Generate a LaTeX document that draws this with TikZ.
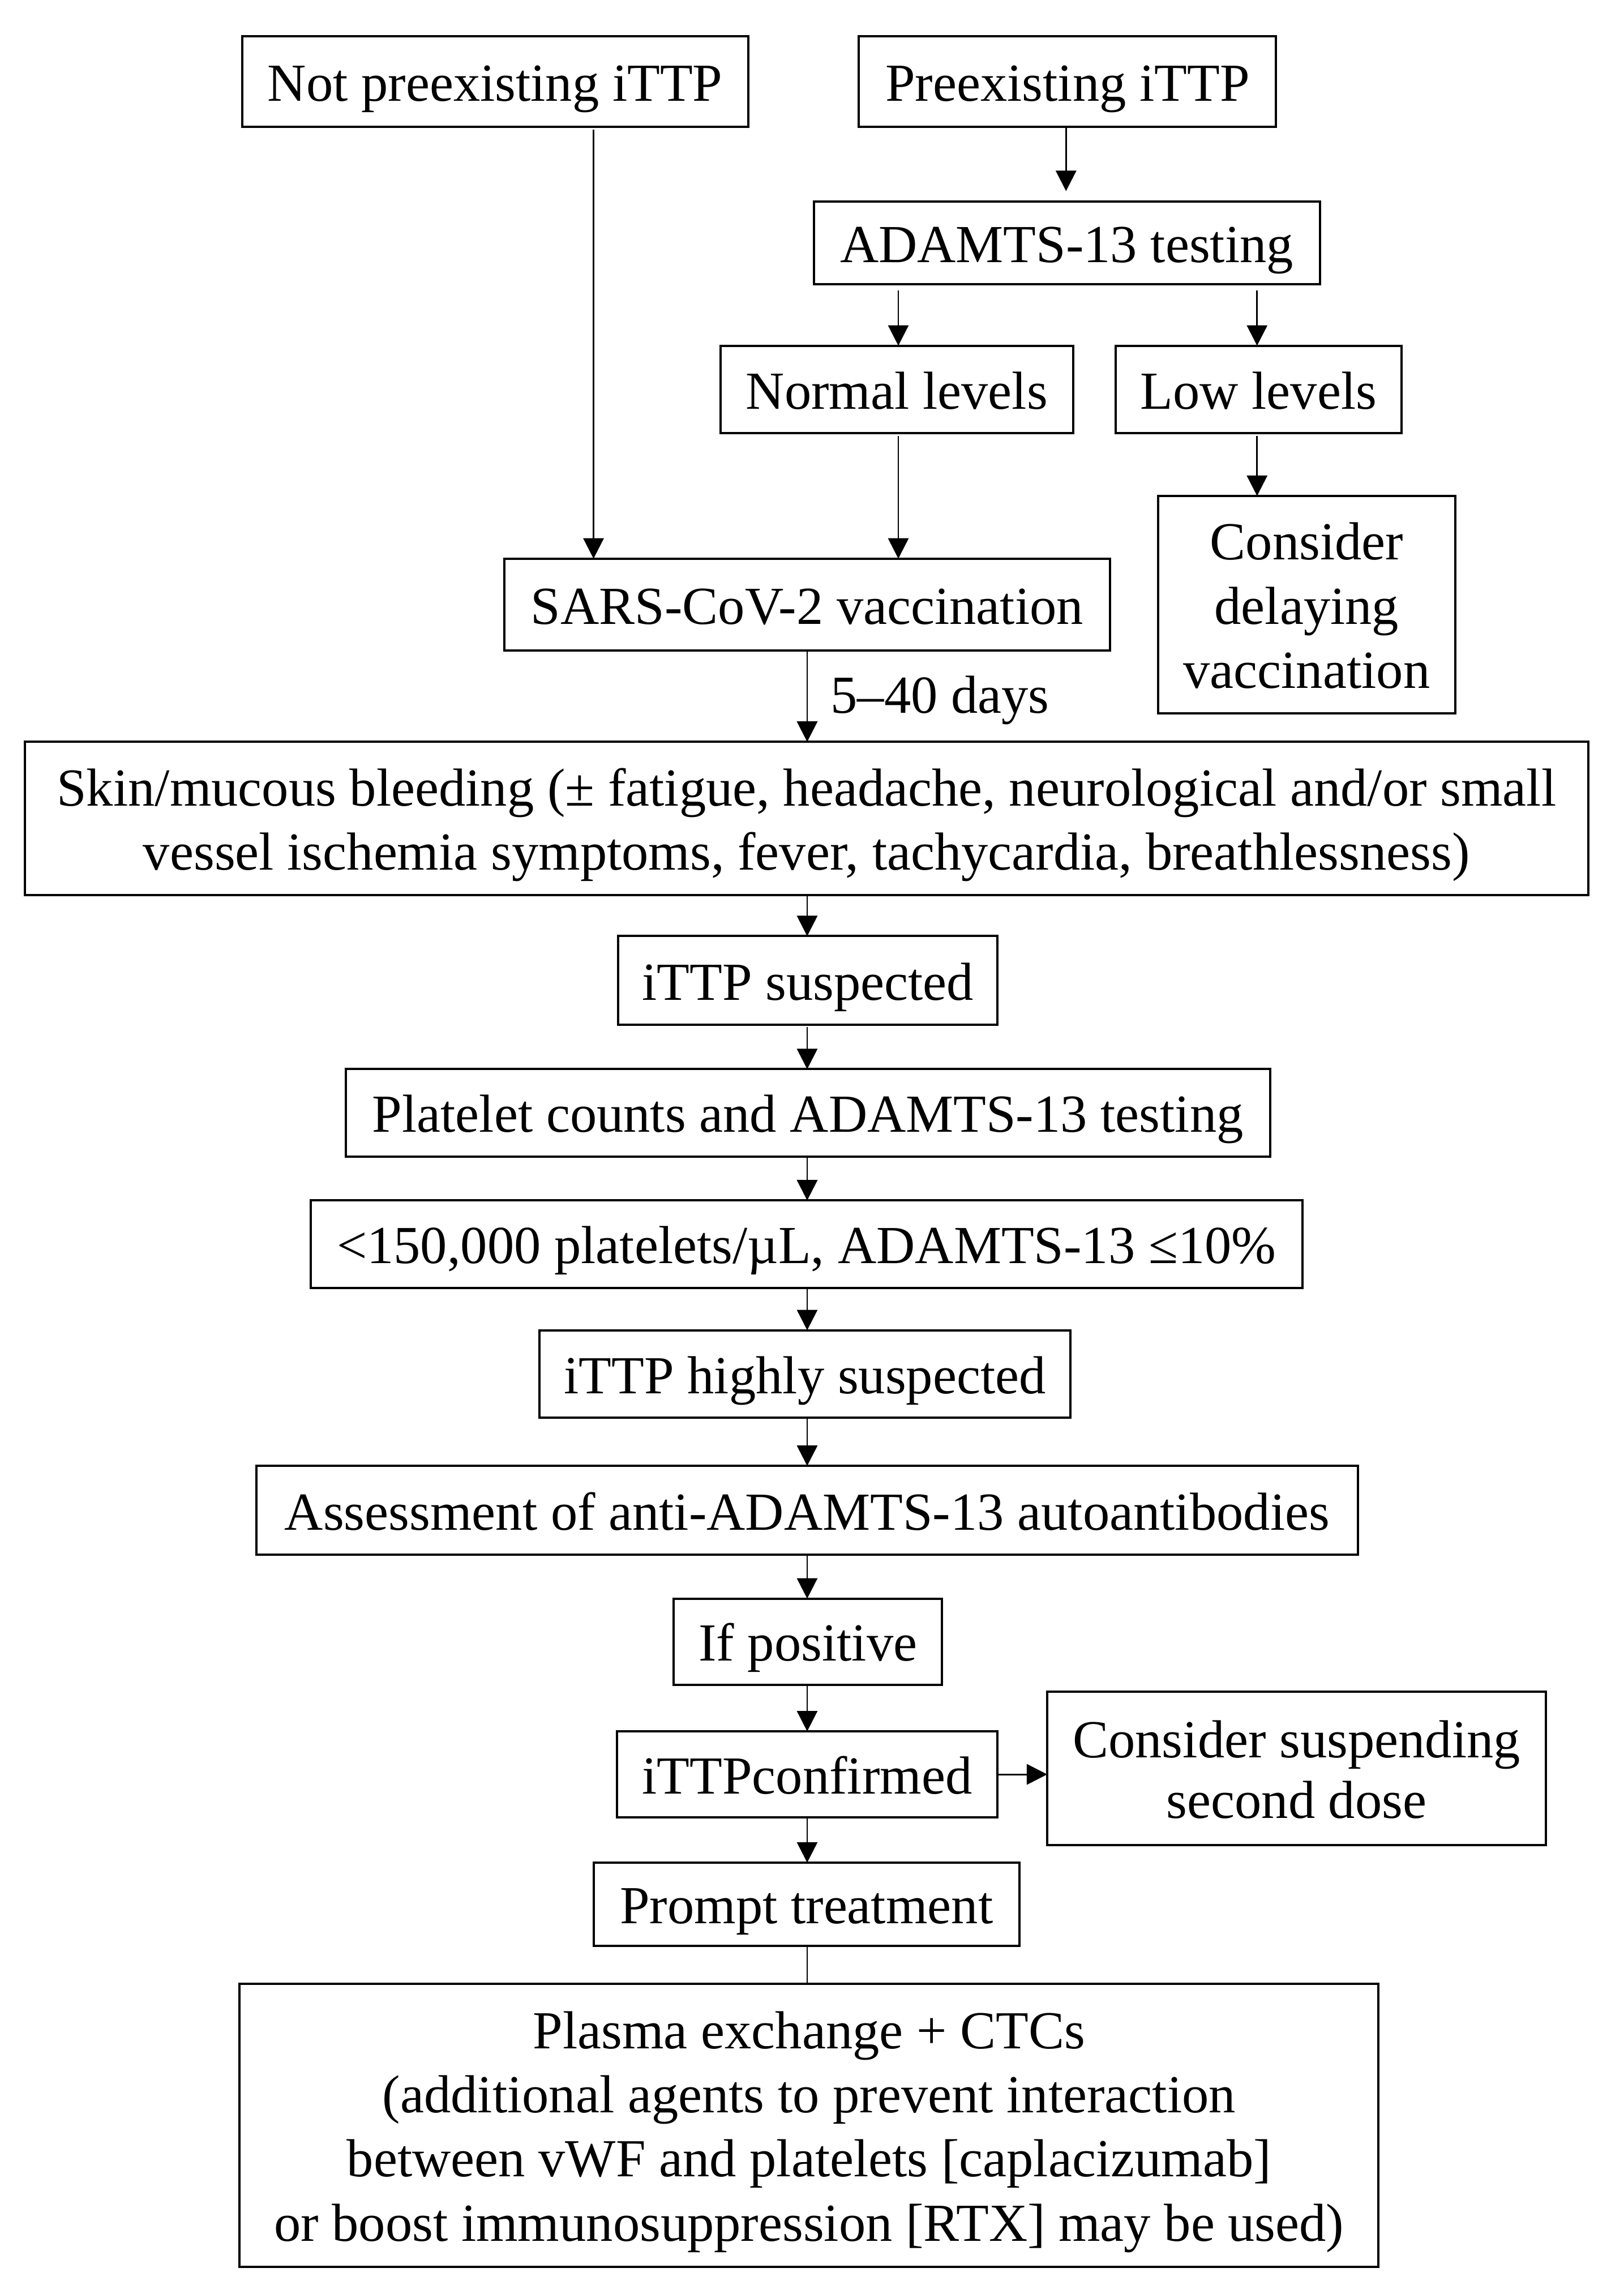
\documentclass[tikz,border=0pt]{standalone}
\usepackage{fontspec}
\setmainfont{Liberation Serif}
\usetikzlibrary{arrows.meta}
\newcommand{\fs}{\fontsize{36.7pt}{44pt}\selectfont}
\newcommand{\topS}{\rule{0pt}{35.9pt}}
\newcommand{\botS}{\rule[-9.3pt]{0pt}{9.3pt}}
\begin{document}
\begin{tikzpicture}[x=1pt,y=1pt,
  box/.style={draw, line width=1.55pt, inner sep=0pt, outer sep=0pt, align=center, font=\fs},
  one/.style={text height=35.9pt, text depth=9.3pt},
  arr/.style={line width=1.15pt, -{Triangle[length=14pt,width=14pt]}},
  ln/.style={line width=1.15pt}]
\useasboundingbox (0,0) rectangle (1113.3,-1566.6);
% nodes
\node[box,one,minimum width=347pt,minimum height=62pt] (A) at (339.5,-56) {Not preexisting iTTP};
\node[box,one,minimum width=286pt,minimum height=62pt] (B) at (732,-56) {Preexisting iTTP};
\node[box,one,minimum width=347pt,minimum height=57pt] (C) at (731.5,-166.5) {ADAMTS-13 testing};
\node[box,one,minimum width=242pt,minimum height=60pt] (D) at (615,-267) {Normal levels};
\node[box,one,minimum width=196pt,minimum height=60pt] (E) at (863,-267) {Low levels};
\node[box,minimum width=204pt,minimum height=149pt] (F) at (896,-414.5) {\topS Consider\\delaying\\vaccination\botS};
\node[box,one,minimum width=415pt,minimum height=63pt] (G) at (553.5,-414.5) {SARS-CoV-2 vaccination};
\node[box,minimum width=1072pt,minimum height=105pt] (H) at (553,-561.1) {\topS Skin/mucous bleeding (± fatigue, headache, neurological and/or small\\vessel ischemia symptoms, fever, tachycardia, breathlessness)\botS};
\node[box,one,minimum width=260pt,minimum height=60.8pt] (I) at (554,-672.2) {iTTP suspected};
\node[box,one,minimum width=634pt,minimum height=60pt] (J) at (554,-763) {Platelet counts and ADAMTS-13 testing};
\node[box,one,minimum width=680pt,minimum height=60pt] (K) at (553,-853) {<150,000 platelets/µL, ADAMTS-13 ≤10\%};
\node[box,one,minimum width=364pt,minimum height=60pt] (L) at (552,-942) {iTTP highly suspected};
\node[box,one,minimum width=755pt,minimum height=61pt] (M) at (553.5,-1035.5) {Assessment of anti-ADAMTS-13 autoantibodies};
\node[box,one,minimum width=184pt,minimum height=59pt] (N) at (554,-1125.5) {If positive};
\node[box,one,minimum width=261pt,minimum height=59pt] (O) at (553.5,-1216.5) {iTTPconfirmed};
\node[box,minimum width=342pt,minimum height=105.3pt] (P) at (889.1,-1212.4) {\topS Consider suspending\\[-2.5pt]second dose\botS};
\node[box,one,minimum width=292pt,minimum height=57pt] (Q) at (553,-1305.5) {Prompt treatment};
\node[box,minimum width=781pt,minimum height=193.8pt] (R) at (554.8,-1457.1) {\topS Plasma exchange + CTCs\\(additional agents to prevent interaction\\between vWF and platelets [caplacizumab]\\or boost immunosuppression [RTX] may be used)\botS};
\node[font=\fs, anchor=base west, inner sep=0pt] (days) at (569.5,-488.7) {5–40 days};
% column coordinates
\coordinate (xm) at (553.5,0);
\coordinate (xa) at (407,0);
\coordinate (xb) at (731,0);
\coordinate (xd) at (616,0);
\coordinate (xe) at (862,0);
% connectors
\draw[arr, shorten >=7pt] (B.south -| xb) -- (C.north -| xb);
\draw[arr, shorten <=4pt] (C.south -| xd) -- (D.north -| xd);
\draw[arr, shorten <=4pt] (C.south -| xe) -- (E.north -| xe);
\draw[arr, shorten <=2pt] (E.south -| xe) -- (F.north -| xe);
\draw[arr, shorten <=2pt] (D.south -| xd) -- (G.north -| xd);
\draw[arr, shorten <=2pt] (A.south -| xa) -- (G.north -| xa);
\draw[arr] (G.south -| xm) -- (H.north -| xm);
\draw[arr] (H.south -| xm) -- (I.north -| xm);
\draw[arr, shorten <=1.5pt] (I.south -| xm) -- (J.north -| xm);
\draw[arr] (J.south -| xm) -- (K.north -| xm);
\draw[arr] (K.south -| xm) -- (L.north -| xm);
\draw[arr] (L.south -| xm) -- (M.north -| xm);
\draw[arr] (M.south -| xm) -- (N.north -| xm);
\draw[arr] (N.south -| xm) -- (O.north -| xm);
\draw[arr] (O.east) -- (O.east -| P.west);
\draw[arr] (O.south -| xm) -- (Q.north -| xm);
\draw[ln] (Q.south -| xm) -- (R.north -| xm);
\end{tikzpicture}
\end{document}
